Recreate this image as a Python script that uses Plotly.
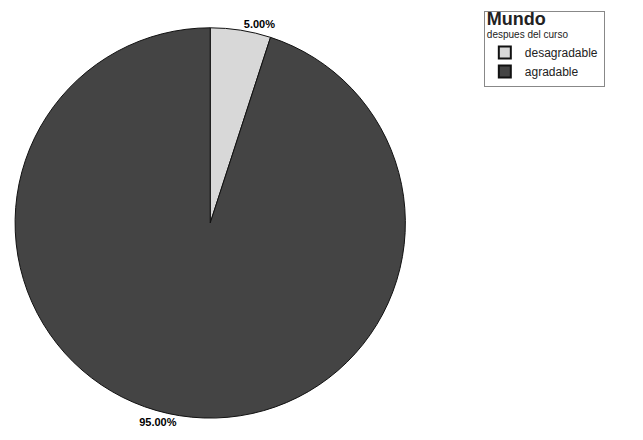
import plotly.graph_objects as go

labels = ["desagradable", "agradable"]
values = [5.0, 95.0]
colors = ["#d8d8d8", "#444444"]

fig = go.Figure(go.Pie(
    labels=labels,
    values=values,
    sort=False,
    direction="clockwise",
    rotation=0,
    marker=dict(colors=colors, line=dict(color="#111111", width=1)),
    textposition="outside",
    texttemplate="%{percent:.2%}",
    outsidetextfont=dict(family="Liberation Sans, Arial", size=11, color="black", weight="bold"),
    domain=dict(x=[0.011, 0.618], y=[0.068, 0.955]),
    hoverinfo="label+percent",
))

fig.update_layout(
    width=643, height=440,
    margin=dict(t=0, b=0, l=0, r=0),
    paper_bgcolor="white",
    plot_bgcolor="white",
    showlegend=True,
    legend=dict(
        x=0.74, y=0.993, xanchor="left", yanchor="top",
        bordercolor="#888888", borderwidth=1,
        font=dict(family="Liberation Sans, Arial", size=12, color="#222222"),
        title=dict(
            text="<b><span style='font-size:18px'>Mundo</span></b><br>despues del curso",
            font=dict(family="Liberation Sans, Arial", size=10, color="#222222"),
            side="top",
        ),
        itemsizing="constant",
        tracegroupgap=0,
    ),
)

fig.write_html("out.html")
